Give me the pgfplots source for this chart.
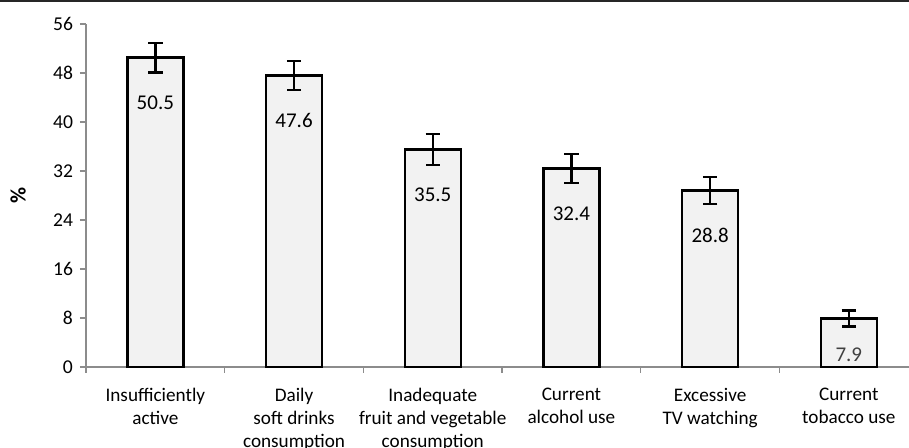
\documentclass[border=0pt]{standalone}
\usepackage{pgfplots}
\pgfplotsset{compat=1.18}
\usepackage{fontspec}
\setmainfont{Carlito}
\definecolor{barfill}{HTML}{F2F2F2}
\definecolor{axgray}{HTML}{8C8C8C}
\begin{document}
\begin{tikzpicture}
\useasboundingbox (0,0) rectangle (454.5pt,224pt);
\draw[line width=1.1pt, black!85] (0,223.5pt) -- (454.5pt,223.5pt);
\begin{axis}[
  at={(43pt,40.5pt)}, anchor=south west,
  scale only axis, width=411.5pt, height=171.5pt,
  xmin=-0.5, xmax=5.434, ymin=0, ymax=56,
  axis x line=bottom, axis y line=left,
  axis line style={axgray, line width=0.6pt, -},
  ytick={0,8,...,56},
  xtick={0,...,5},
  xticklabels={{Insufficiently\\active},{Daily\\soft drinks\\consumption},{Inadequate\\fruit and vegetable\\consumption},{Current\\alcohol use},{Excessive\\TV watching},{Current\\tobacco use}},
  xticklabel style={align=center, font=\fontsize{9.6pt}{11.5pt}\selectfont, yshift=-4pt},
  yticklabel style={font=\fontsize{9.8pt}{11pt}\selectfont},
  minor xtick={-0.5,0.5,...,4.5},
  major x tick style={draw=none},
  minor x tick style={axgray, line width=0.6pt},
  ytick style={axgray, line width=0.6pt},
  tick align=outside, major tick length=3pt, minor tick length=3pt,
  /pgf/number format/assume math mode=true,
  ylabel={\textbf{\%}},
  ylabel style={at={(axis description cs:-0.0826,0.5)}, anchor=center, font=\fontsize{11pt}{12pt}\selectfont},
  clip=false,
]
\addplot[ybar, bar width=28pt, bar shift=0pt, fill=barfill, draw=black, line width=1.2pt,
  error bars/.cd, y dir=both, y explicit,
  error bar style={line width=1.2pt, black},
  error mark options={rotate=90, mark size=3.6pt, line width=1.2pt, black}]
coordinates {
  (0,50.5) +- (0,2.4)
  (1,47.6) +- (0,2.4)
  (2,35.5) +- (0,2.5)
  (3,32.4) +- (0,2.4)
  (4,28.8) +- (0,2.2)
  (5,7.9)  +- (0,1.3)
};
\addplot[ybar, bar width=28pt, bar shift=0pt, draw=none, fill=none,
  nodes near coords, point meta=explicit symbolic,
  every node near coord/.append style={anchor=center, yshift=-22.5pt, font=\fontsize{10.5pt}{12pt}\selectfont, text=black}]
coordinates {
  (0,50.5) [50.5]
  (1,47.6) [47.6]
  (2,35.5) [35.5]
  (3,32.4) [32.4]
  (4,28.8) [28.8]
};
\addplot[ybar, bar width=28pt, bar shift=0pt, draw=none, fill=none,
  nodes near coords, point meta=explicit symbolic,
  every node near coord/.append style={anchor=center, yshift=-18pt, font=\fontsize{10.5pt}{12pt}\selectfont, text=black!75}]
coordinates {
  (5,7.9)  [7.9]
};
\end{axis}
\end{tikzpicture}
\end{document}
